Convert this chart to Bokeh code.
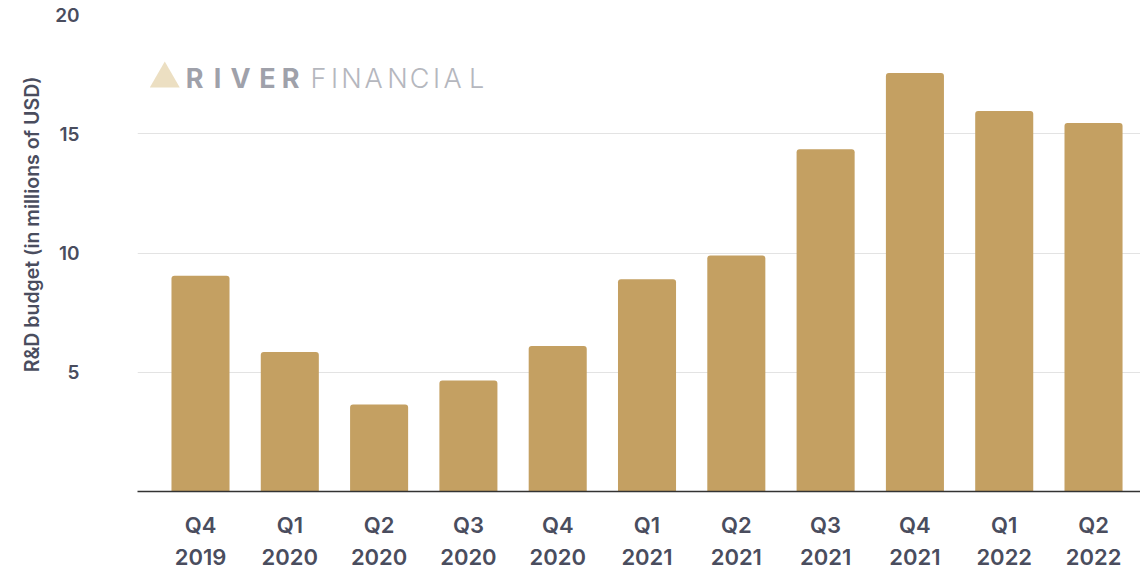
import numpy as np
from bokeh.plotting import figure
from bokeh.models import Range1d, FixedTicker, ColumnDataSource, Label, Title
from bokeh.embed import file_html
from bokeh.resources import INLINE

quarters = ["Q4", "Q1", "Q2", "Q3", "Q4", "Q1", "Q2", "Q3", "Q4", "Q1", "Q2"]
years = ["2019", "2020", "2020", "2020", "2020", "2021", "2021", "2021", "2021", "2022", "2022"]
rd_budget = [9.05, 5.85, 3.65, 4.65, 6.1, 8.9, 9.9, 14.35, 17.55, 15.95, 15.45]
y_ticks = [5, 10, 15, 20]

xs = list(range(len(quarters)))
labels = {i: f"{q}\n{y}" for i, (q, y) in enumerate(zip(quarters, years))}

src = ColumnDataSource(dict(x=xs, top=rd_budget))

FONT = "Inter SemiBold, Inter"
TXT = "#4a4d5e"
STEP = 89.3  # px per category, used only to place the watermark

p = figure(width=1140, height=572, output_backend="svg", toolbar_location=None,
           x_range=Range1d(-0.7055, 10.526), y_range=Range1d(0, 20),
           min_border_left=137, min_border_right=0, min_border_top=14, min_border_bottom=80)
p.outline_line_color = None
p.background_fill_color = "white"

p.vbar(x="x", top="top", bottom=0, width=0.65, source=src,
       fill_color="#c4a062", line_color=None, border_radius=(3, 3, 0, 0))

# watermark
p.scatter(x=[-0.40], y=[17.3], marker="triangle", size=30,
          fill_color="#ecdfc2", line_color=None)
for ch, xp in zip("RIVER", [194, 217, 240, 267, 290]):
    p.add_layout(Label(x=(xp - 200) / STEP, y=17.3, text=ch, text_font="Inter",
                       text_font_style="bold", text_font_size="27px",
                       text_color="#9fa1aa", text_align="center", text_baseline="middle"))
for ch, xp in zip("FINANCIAL", [318, 334, 351, 373, 397, 419, 436, 452, 476]):
    p.add_layout(Label(x=(xp - 200) / STEP, y=17.3, text=ch, text_font="Inter Light, Inter",
                       text_font_size="27px", text_color="#b5b7be",
                       text_align="center", text_baseline="middle"))

# axes
p.xaxis.ticker = FixedTicker(ticks=xs)
p.xaxis.major_label_overrides = labels
p.xaxis.major_tick_line_color = None
p.xaxis.minor_tick_line_color = None
p.xaxis.axis_line_color = "#333333"
p.xaxis.axis_line_width = 1.5
p.xaxis.major_label_text_font = FONT
p.xaxis.major_label_text_font_size = "22px"
p.xaxis.major_label_text_color = TXT
p.xaxis.major_label_standoff = 14
p.xaxis.major_label_text_line_height = 1.24

p.yaxis.ticker = FixedTicker(ticks=y_ticks)
p.yaxis.major_tick_line_color = None
p.yaxis.minor_tick_line_color = None
p.yaxis.axis_line_color = None
p.yaxis.major_label_text_font = FONT
p.yaxis.major_label_text_font_size = "19px"
p.yaxis.major_label_text_color = TXT
p.yaxis.major_label_standoff = 52

# y axis title as a side title
ytitle = Title(text="R&D budget (in millions of USD)", align="right", offset=62,
               text_font=FONT, text_font_size="19.5px", text_font_style="normal",
               text_color=TXT, standoff=17)
p.add_layout(ytitle, "left")

p.xgrid.grid_line_color = None
p.ygrid.ticker = FixedTicker(ticks=y_ticks)
p.ygrid.grid_line_color = "#e3e3e3"
p.ygrid.grid_line_width = 1

open("out.html", "w").write(file_html(p, INLINE))
